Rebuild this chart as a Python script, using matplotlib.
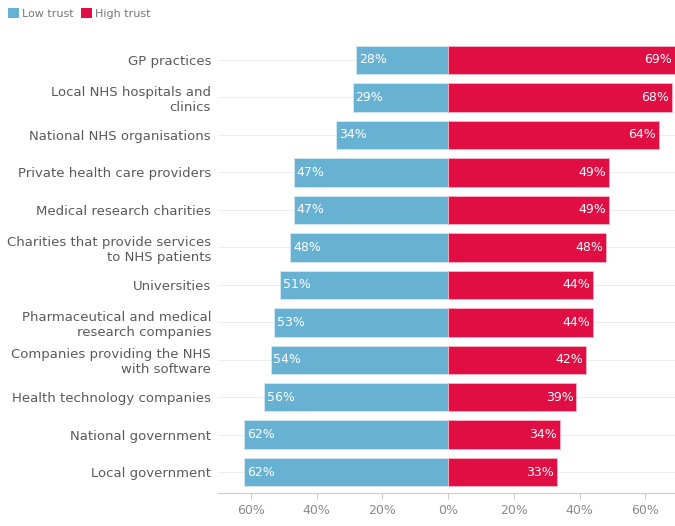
import matplotlib.pyplot as plt
from matplotlib.patches import Patch

categories = ['GP practices', 'Local NHS hospitals and\nclinics', 'National NHS organisations',
              'Private health care providers', 'Medical research charities',
              'Charities that provide services\nto NHS patients', 'Universities',
              'Pharmaceutical and medical\nresearch companies',
              'Companies providing the NHS\nwith software', 'Health technology companies',
              'National government', 'Local government']
low_trust = [28, 29, 34, 47, 47, 48, 51, 53, 54, 56, 62, 62]
high_trust = [69, 68, 64, 49, 49, 48, 44, 44, 42, 39, 34, 33]
ticks = [-60, -40, -20, 0, 20, 40, 60]
tick_labels = ['60%', '40%', '20%', '0%', '20%', '40%', '60%']

blue = '#67b1d2'
red = '#e00e43'

plt.rcParams['font.family'] = ['DejaVu Sans']

fig = plt.figure(figsize=(6.75, 5.26), dpi=100)
ax = fig.add_axes([0.323, 0.063, 0.677, 0.859])

y = list(range(len(categories)))
ax.barh(y, [-v for v in low_trust], height=0.76, color=blue, edgecolor='#d5e9f2', linewidth=0.6, zorder=3)
ax.barh(y, high_trust, height=0.76, color=red, edgecolor='#f3b5c4', linewidth=0.6, zorder=3)

for i in y:
    ax.text(-low_trust[i] + 0.8, i, f'{low_trust[i]}%', color='white', va='center', ha='left',
            fontsize=9, zorder=4)
    ax.text(high_trust[i] - 0.8, i, f'{high_trust[i]}%', color='white', va='center', ha='right',
            fontsize=9, zorder=4)

ax.set_yticks(y)
ax.set_yticklabels(categories, fontsize=9.5, color='#5a5a5a', ha='right')
ax.set_ylim(11.55, -0.5)
ax.set_xlim(-70, 69)
ax.set_xticks(ticks)
ax.set_xticklabels(tick_labels, fontsize=9, color='#8a8a8a')

ax.grid(axis='y', color='#eeeeee', linewidth=0.8, zorder=0)
ax.tick_params(axis='y', length=0, pad=5)
ax.tick_params(axis='x', length=4, color='#cccccc', pad=4)
for s in ['top', 'right', 'left']:
    ax.spines[s].set_visible(False)
ax.spines['bottom'].set_color('#cccccc')

handles = [Patch(facecolor=blue, label='Low trust'), Patch(facecolor=red, label='High trust')]
fig.legend(handles=handles, loc='upper left', bbox_to_anchor=(0.0, 1.0), ncol=2, frameon=False,
           fontsize=8, labelcolor='#777777', handlelength=1.0, handleheight=1.0,
           handletextpad=0.3, columnspacing=0.6, borderaxespad=0.3)

fig.savefig('out.png', dpi=100)
